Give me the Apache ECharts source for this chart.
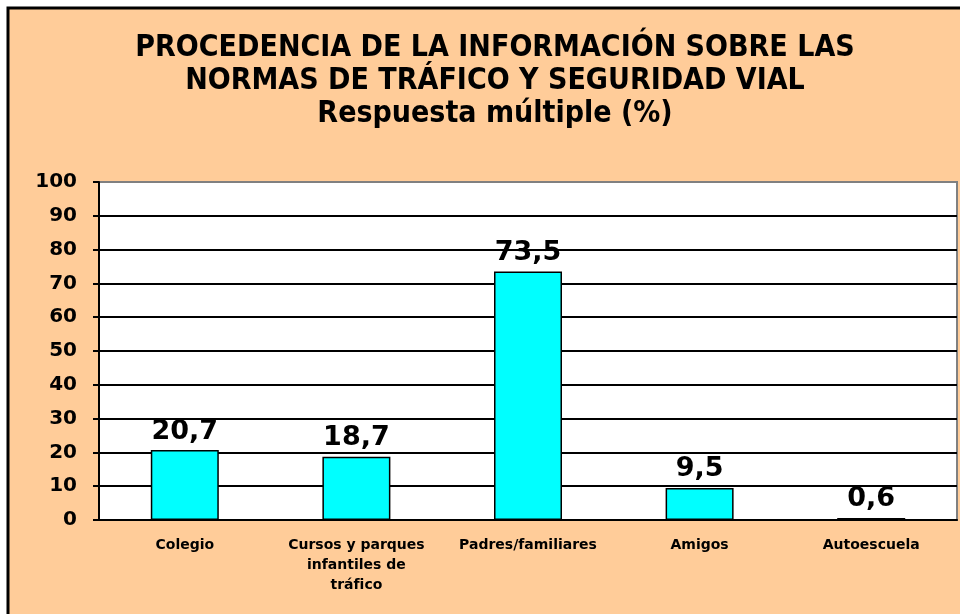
<!DOCTYPE html>
<html lang="es">
<head>
    <meta charset="utf-8" />
    <title>Procedencia de la información</title>
    <script src="https://cdn.jsdelivr.net/npm/echarts@6/dist/echarts.min.js"></script>
    <style>
        html, body { margin: 0; padding: 0; background: #fff; }
        #chart { width: 960px; height: 614px; }
    </style>
</head>
<body>
    <div id="chart"></div>
    <script>
    // datos
    var categorias = ['Colegio', 'Cursos y parques\ninfantiles de\ntráfico', 'Padres/familiares', 'Amigos', 'Autoescuela'];
    var valores = [20.7, 18.7, 73.5, 9.5, 0.6];
    var titulo = 'PROCEDENCIA DE LA INFORMACIÓN SOBRE LAS\nNORMAS DE TRÁFICO Y SEGURIDAD VIAL\nRespuesta múltiple (%)';

    // colores de las líneas de división (la última es el borde del área)
    var coloresRejilla = ['#000', '#000', '#000', '#000', '#000', '#000', '#000', '#000', '#000', '#000', '#808080'];

    var myChart = echarts.init(document.getElementById('chart'));
    myChart.setOption({
        backgroundColor: '#fff',
        animation: false,
        graphic: [
            {
                type: 'rect',
                z: -10,
                shape: { x: 8, y: 8, width: 1000, height: 700 },
                style: { fill: '#FFCC99', stroke: '#000', lineWidth: 3 }
            }
        ],
        title: {
            text: titulo,
            left: 490,
            top: 27,
            textAlign: 'center',
            textStyle: {
                fontFamily: '"DejaVu Sans Condensed", "DejaVu Sans", sans-serif',
                fontWeight: 'bold',
                fontSize: 30,
                lineHeight: 33,
                color: '#000'
            }
        },
        grid: {
            left: 99,
            right: 3,
            top: 182,
            bottom: 94,
            show: true,
            backgroundColor: '#fff',
            borderColor: '#808080',
            borderWidth: 2
        },
        xAxis: {
            type: 'category',
            data: categorias,
            axisLine: { lineStyle: { color: '#000', width: 2 } },
            axisTick: { length: 6, lineStyle: { color: '#000', width: 2 } },
            axisLabel: {
                margin: 15,
                interval: 0,
                color: '#000',
                fontFamily: '"DejaVu Sans", Verdana, sans-serif',
                fontWeight: 'bold',
                fontSize: 14,
                lineHeight: 20
            }
        },
        yAxis: {
            type: 'value',
            min: 0,
            max: 100,
            interval: 10,
            axisLine: { show: true, lineStyle: { color: '#000', width: 2 } },
            axisTick: { show: true, length: 6, lineStyle: { color: '#000', width: 2 } },
            splitLine: { lineStyle: { color: coloresRejilla, width: 2 } },
            axisLabel: {
                margin: 22,
                color: '#000',
                fontFamily: '"DejaVu Sans", Verdana, sans-serif',
                fontWeight: 'bold',
                fontSize: 20
            }
        },
        series: [
            {
                type: 'bar',
                data: valores,
                barWidth: 68,
                itemStyle: { color: '#00FFFF', borderColor: '#000', borderWidth: 1.5 },
                label: {
                    show: true,
                    position: 'top',
                    distance: 5,
                    color: '#000',
                    fontFamily: '"DejaVu Sans", Verdana, sans-serif',
                    fontWeight: 'bold',
                    fontSize: 27,
                    formatter: function (p) { return String(p.value).replace('.', ','); }
                }
            }
        ]
    });
    </script>
</body>
</html>
